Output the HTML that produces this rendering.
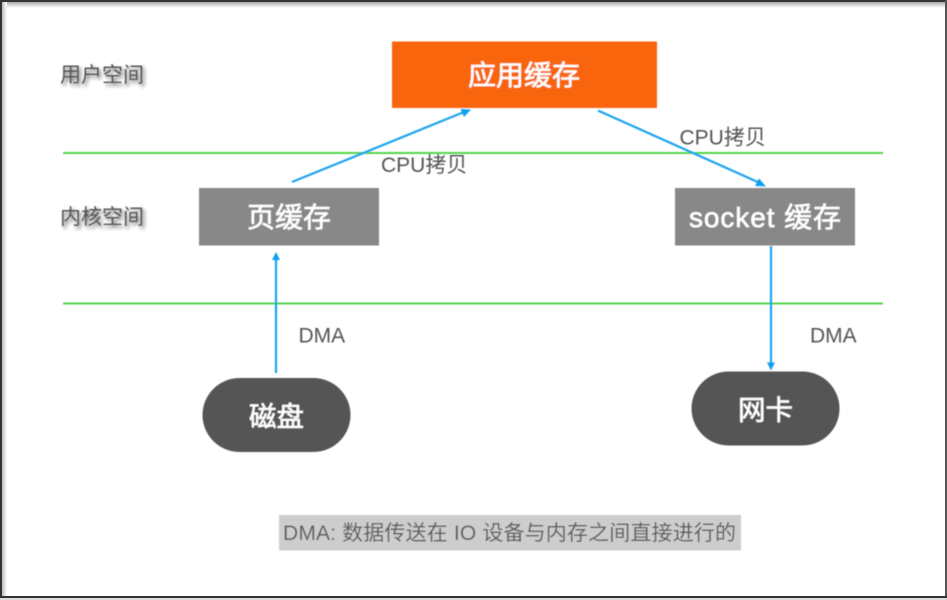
<!DOCTYPE html>
<html lang="zh">
<head>
<meta charset="utf-8">
<style>
html,body{margin:0;padding:0;background:#fff}
svg{display:block}
text{font-family:"Liberation Sans","Noto Sans CJK SC",sans-serif}
</style>
</head>
<body>
<svg width="947" height="600" viewBox="0 0 947 600" xmlns="http://www.w3.org/2000/svg">
<defs>
<linearGradient id="t" x1="0" y1="0" x2="0" y2="1"><stop offset="0" stop-color="#aaa"/><stop offset="1" stop-color="#fff"/></linearGradient>
<linearGradient id="l" x1="0" y1="0" x2="1" y2="0"><stop offset="0" stop-color="#bbb"/><stop offset=".6" stop-color="#e4e4e4"/><stop offset="1" stop-color="#fff"/></linearGradient>
<filter id="s" x="-10%" y="-10%" width="120%" height="120%"><feGaussianBlur stdDeviation="0.5"/></filter>
<filter id="sh" x="-20%" y="-40%" width="140%" height="180%"><feGaussianBlur stdDeviation="1.8"/></filter>
</defs>
<rect width="947" height="600" fill="#fff"/>
<rect x="0" y="2" width="947" height="6" fill="url(#t)"/>
<rect x="2" y="0" width="5" height="600" fill="url(#l)"/>
<rect x="0" y="0" width="947" height="2" fill="#333"/>
<rect x="0" y="0" width="2" height="600" fill="#333"/>
<rect x="945" y="0" width="2" height="600" fill="#555"/>
<rect x="0" y="596" width="947" height="2" fill="#333"/>
<rect x="0" y="598" width="947" height="2" fill="#ddd"/>

<g filter="url(#s)">
<line x1="63" y1="153" x2="883" y2="153" stroke="#55d64a" stroke-width="2"/>
<line x1="63" y1="303.500" x2="883" y2="303.500" stroke="#55d64a" stroke-width="2"/>

<rect x="392" y="41.500" width="265" height="66.500" fill="#f9650c"/>
<rect x="199" y="188" width="180" height="57.500" fill="#888"/>
<rect x="675" y="188" width="180" height="57.500" fill="#888"/>
<rect x="202.500" y="378" width="148" height="74" rx="37" fill="#555"/>
<rect x="691.500" y="371.500" width="148" height="74" rx="37" fill="#555"/>
<rect x="279" y="515" width="462" height="35.500" fill="#cdcdcd"/>

<g stroke="#1ca4ee" stroke-width="2.200" fill="none">
<line x1="292" y1="182" x2="464" y2="112"/>
<line x1="598" y1="110.500" x2="760" y2="183"/>
<line x1="276" y1="373" x2="276" y2="258"/>
<line x1="771" y1="246" x2="771" y2="364"/>
</g>
<g fill="#0f9ff0">
<polygon points="471,109.500 460.500,109 464,117"/>
<polygon points="766,186.500 755,186 759,178.500"/>
<polygon points="276,252 272,260 280,260"/>
<polygon points="771,370.500 767,362.500 775,362.500"/>
</g>

<g font-size="21" fill="#222" opacity=".7" filter="url(#sh)">
<text x="62" y="84.500">用户空间</text>
<text x="62" y="226.500">内核空间</text>
</g>
<g font-size="21" fill="#555">
<text x="60" y="82">用户空间</text>
<text x="60" y="224">内核空间</text>
<text x="381" y="172">CPU拷贝</text>
<text x="679.500" y="144.500">CPU拷贝</text>
<text x="298.500" y="342.500">DMA</text>
<text x="810" y="342.500">DMA</text>
<text x="283" y="540" textLength="453" fill="#5a5a5a">DMA: 数据传送在 IO 设备与内存之间直接进行的</text>
</g>
<g fill="#fff" stroke="#fff" stroke-width=".5">
<text x="524" y="85" font-size="28" text-anchor="middle">应用缓存</text>
<text x="289" y="227" font-size="28" text-anchor="middle">页缓存</text>
<text x="689" y="227" font-size="28" textLength="152">socket 缓存</text>
<text x="276.500" y="426" font-size="27.500" text-anchor="middle">磁盘</text>
<text x="765.500" y="419.500" font-size="27.500" text-anchor="middle">网卡</text>
</g>
</g>
</svg>
</body>
</html>
